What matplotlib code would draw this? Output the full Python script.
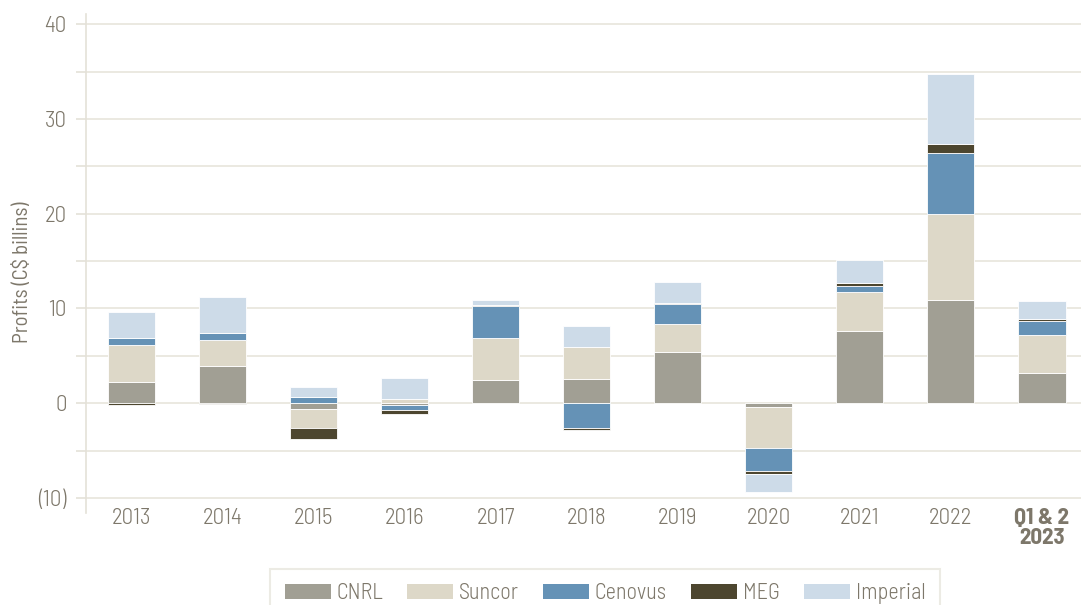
import numpy as np
import matplotlib
matplotlib.use("Agg")
import matplotlib.pyplot as plt
from matplotlib.ticker import MultipleLocator, FuncFormatter

plt.rcParams['font.family'] = ['Barlow Semi Condensed', 'DejaVu Sans']
plt.rcParams['font.weight'] = 300

categories = ["2013", "2014", "2015", "2016", "2017", "2018", "2019", "2020",
              "2021", "2022", "Q1 & 2\n2023"]
series_names = ["CNRL", "Suncor", "Cenovus", "MEG", "Imperial"]
cnrl     = [2.27, 3.93, -0.64, -0.20, 2.40, 2.59, 5.42, -0.43, 7.66, 10.94, 3.20]
suncor   = [3.91, 2.70, -1.99,  0.45, 4.46, 3.29, 2.90, -4.34, 4.12,  9.08, 3.95]
cenovus  = [0.66, 0.74,  0.62, -0.55, 3.37, -2.67, 2.19, -2.38, 0.59, 6.45, 1.55]
meg      = [-0.18, -0.09, -1.17, -0.43, 0.16, -0.18, 0.06, -0.35, 0.28, 0.94, 0.17]
imperial = [2.83, 3.79,  1.12,  2.17, 0.49, 2.31, 2.20, -1.86, 2.48,  7.34, 1.96]
colors = ["#a19f94", "#ddd8c8", "#6592b6", "#4d462f", "#cddbe8"]

data = [cnrl, suncor, cenovus, meg, imperial]
text_col = "#7d776a"
grid_col = "#ebe9e1"

fig = plt.figure(figsize=(10.83, 6.05), dpi=100)
ax = fig.add_axes([86/1083, 1 - 513/605, (1081 - 86)/1083, (513 - 14)/605])

x = np.arange(len(categories))
pos_base = np.zeros(len(categories))
neg_base = np.zeros(len(categories))
for name, vals, c in zip(series_names, data, colors):
    v = np.array(vals)
    bottoms = np.where(v >= 0, pos_base, neg_base)
    ax.bar(x, v, bottom=bottoms, width=0.52, color=c, edgecolor="white",
           linewidth=0.6, label=name, zorder=3)
    pos_base = pos_base + np.where(v >= 0, v, 0)
    neg_base = neg_base + np.where(v < 0, v, 0)

ax.set_xlim(-0.5, 10.43)
ax.set_ylim(-11.6, 41.1)
ax.yaxis.set_major_locator(MultipleLocator(10))
ax.yaxis.set_minor_locator(MultipleLocator(5))
ax.yaxis.set_major_formatter(FuncFormatter(
    lambda v, p: f"({abs(int(v))})" if v < 0 else f"{int(v)}"))
ax.grid(axis='y', which='both', color=grid_col, linewidth=1.4, zorder=0)
ax.set_axisbelow(True)

for s in ["top", "right", "bottom"]:
    ax.spines[s].set_visible(False)
ax.spines["left"].set_color("#e4e1d8")
ax.spines["left"].set_linewidth(1.2)

ax.tick_params(axis='y', which='both', length=7, width=1.2, color="#e4e1d8",
               labelsize=16.5, labelcolor=text_col, pad=7)
ax.tick_params(axis='x', length=0, labelsize=16.5, labelcolor=text_col, pad=-3.5)
ax.set_xticks(x)
ax.set_xticklabels(categories)
lbls = ax.get_xticklabels()
lbls[-1].set_fontweight(700)
lbls[-1].set_linespacing(1.0)

ax.set_ylabel("Profits (C$ billins)", fontsize=15, color=text_col)
ax.yaxis.set_label_coords(-0.054, 0.483)

leg = fig.legend(loc="upper center", bbox_to_anchor=(605/1083, 1 - 569/605),
                 ncol=5, frameon=True, fancybox=False, fontsize=16,
                 handlelength=2.07, handleheight=0.63, handletextpad=0.25,
                 columnspacing=1.1, borderpad=0.65, borderaxespad=0)
leg.get_frame().set_edgecolor("#e8e6de")
leg.get_frame().set_linewidth(1.5)
for t in leg.get_texts():
    t.set_color(text_col)
for h in leg.legend_handles:
    h.set_edgecolor("none")

fig.savefig("out.png", dpi=100)
